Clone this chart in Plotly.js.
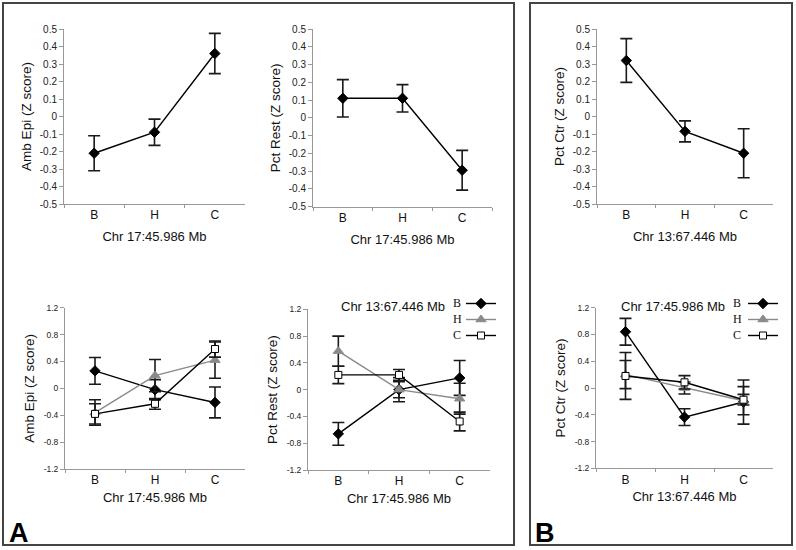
<!DOCTYPE html>
<html><head><meta charset="utf-8">
<script src="https://cdn.plot.ly/plotly-3.0.1.min.js"></script>
<style>html,body{margin:0;padding:0;background:#fff}#chart{width:796px;height:550px}</style>
</head><body><div id="chart"></div>
<script>
// categories (genotype on the x axis)
const genotypes = ['B', 'H', 'C'];
// legend series (genotype at the second locus)
const seriesNames = ['B', 'H', 'C'];

// top row values
const ambEpiTop = [-0.21, -0.09, 0.36];
const ambEpiTopErr = [0.10, 0.075, 0.115];
const pctRestTop = [0.11, 0.11, -0.295];
const pctRestTopErr = [0.105, 0.077, 0.112];
const pctCtrTop = [0.32, -0.085, -0.21];
const pctCtrTopErr = [0.125, 0.06, 0.14];

// bottom left: Amb Epi by Chr17 genotype, series = Chr13 genotype
const ambEpiB = [0.26, -0.02, -0.21];
const ambEpiBErr = [0.20, 0.15, 0.23];
const ambEpiH = [-0.36, 0.19, 0.42];
const ambEpiHErr = [0.19, 0.24, 0.27];
const ambEpiC = [-0.38, -0.23, 0.585];
const ambEpiCErr = [0.15, 0.08, 0.12];

// bottom middle: Pct Rest by Chr17 genotype, series = Chr13 genotype
const pctRestB = [-0.66, 0.0, 0.175];
const pctRestBErr = [0.17, 0.18, 0.26];
const pctRestH = [0.575, 0.0, -0.135];
const pctRestHErr = [0.225, 0.12, 0.23];
const pctRestC = [0.22, 0.22, -0.475];
const pctRestCErr = [0.13, 0.08, 0.14];

// bottom right: Pct Ctr by Chr13 genotype, series = Chr17 genotype
const pctCtrB = [0.84, -0.435, -0.21];
const pctCtrBErr = [0.20, 0.125, 0.33];
const pctCtrH = [0.20, 0.0, -0.19];
const pctCtrHErr = [0.21, 0.09, 0.21];
const pctCtrC = [0.18, 0.085, -0.175];
const pctCtrCErr = [0.35, 0.10, 0.08];

const topTicks = [0.5, 0.4, 0.3, 0.2, 0.1, 0, -0.1, -0.2, -0.3, -0.4, -0.5];
const topTickText = ['0.5', '0.4', '0.3', '0.2', '0.1', '0', '-0.1', '-0.2', '-0.3', '-0.4', '-0.5'];
const botTicks = [1.2, 0.8, 0.4, 0, -0.4, -0.8, -1.2];
const botTickText = ['1.2', '0.8', '0.4', '0', '-0.4', '-0.8', '-1.2'];

const FONT = 'Liberation Sans, Arial, sans-serif';
const SERIF = 'Liberation Serif, Times New Roman, serif';
const W = 796, H = 550;
const px = v => v / W;
const py = v => 1 - v / H;

const styles = [
  {symbol: 'diamond', size: 8, color: '#000', line: {color: '#000', width: 1}, lc: '#000'},
  {symbol: 'triangle-up', size: 9, color: '#8a8a8a', line: {color: '#8a8a8a', width: 1}, lc: '#8a8a8a'},
  {symbol: 'square', size: 7, color: '#fff', line: {color: '#000', width: 1}, lc: '#000'}
];

function tr(y, err, ax, st, legend) {
  return {
    type: 'scatter', mode: 'lines+markers', x: genotypes, y: y,
    xaxis: 'x' + ax, yaxis: 'y' + ax,
    name: '', showlegend: !!legend, legend: legend || 'legend',
    line: {color: st.lc, width: 1.4},
    marker: {symbol: st.symbol, size: st.size, color: st.color, line: st.line},
    error_y: {type: 'data', array: err, visible: true, color: '#1a1a1a', thickness: 1.6, width: 6},
    hoverinfo: 'skip'
  };
}

const data = [
  tr(ambEpiTop, ambEpiTopErr, '', styles[0]),
  tr(pctRestTop, pctRestTopErr, '2', styles[0]),
  tr(pctCtrTop, pctCtrTopErr, '3', styles[0]),
  tr(ambEpiB, ambEpiBErr, '4', styles[0]),
  tr(ambEpiH, ambEpiHErr, '4', styles[1]),
  tr(ambEpiC, ambEpiCErr, '4', styles[2]),
  tr(pctRestB, pctRestBErr, '5', styles[0], 'legend'),
  tr(pctRestH, pctRestHErr, '5', styles[1], 'legend2'),
  tr(pctRestC, pctRestCErr, '5', styles[2], 'legend3'),
  tr(pctCtrB, pctCtrBErr, '6', styles[0], 'legend4'),
  tr(pctCtrH, pctCtrHErr, '6', styles[1], 'legend5'),
  tr(pctCtrC, pctCtrCErr, '6', styles[2], 'legend6')
];

function xax(x0, x1, title, anchor, standoff) {
  return {
    domain: [px(x0), px(x1)], anchor: anchor, type: 'category',
    range: [-0.5, 2.5], tickson: 'boundaries', ticks: 'outside', ticklen: 3,
    tickcolor: '#999', showline: true, linecolor: '#999', linewidth: 1,
    showgrid: false, zeroline: false, fixedrange: true,
    tickfont: {family: FONT, size: 12, color: '#111'},
    title: {text: title, font: {family: FONT, size: 13, color: '#111'}, standoff: standoff}
  };
}
function yax(y0, y1, title, anchor, top) {
  return {
    domain: [py(y1), py(y0)], anchor: anchor,
    range: top ? [-0.5, 0.5] : [-1.2, 1.2],
    tickvals: top ? topTicks : botTicks, ticktext: top ? topTickText : botTickText,
    ticks: 'outside', ticklen: 4, tickcolor: '#999',
    showline: true, linecolor: '#999', linewidth: 1,
    showgrid: false, zeroline: false, fixedrange: true,
    tickfont: {family: FONT, size: top ? 10 : 8.5, color: '#222'},
    title: {text: title, font: {family: FONT, size: 13.5, color: '#111'}, standoff: 5}
  };
}

const chr17 = 'Chr 17:45.986 Mb';
const chr13 = 'Chr 13:67.446 Mb';

function leg(x, yCenter) {
  return {x: px(x), y: py(yCenter - 14), xanchor: 'left', yanchor: 'top', bgcolor: 'rgba(0,0,0,0)',
    font: {family: SERIF, size: 10}, itemwidth: 30};
}
const legendLetterY = [303, 319, 335];

const layout = {
  width: W, height: H, margin: {l: 0, r: 0, t: 0, b: 0},
  paper_bgcolor: '#fff', plot_bgcolor: 'rgba(0,0,0,0)',
  font: {family: FONT},
  showlegend: true,
  xaxis: xax(64, 245, chr17, 'y', 10),
  yaxis: yax(29, 204, 'Amb Epi (Z score)', 'x', true),
  xaxis2: xax(313, 492, chr17, 'y2', 10),
  yaxis2: yax(29, 206.7, 'Pct Rest (Z score)', 'x2', true),
  xaxis3: xax(597, 773, chr13, 'y3', 10),
  yaxis3: yax(29, 204, 'Pct Ctr (Z score)', 'x3', true),
  xaxis4: xax(65, 245, chr17, 'y4', 6),
  yaxis4: yax(307.7, 469, 'Amb Epi (Z score)', 'x4', false),
  xaxis5: xax(308, 490, chr17, 'y5', 6),
  yaxis5: yax(309.3, 470, 'Pct Rest (Z score)', 'x5', false),
  xaxis6: xax(596, 773, chr13, 'y6', 6),
  yaxis6: yax(307.7, 468.3, 'Pct Ctr (Z score)', 'x6', false),
  legend: leg(461, legendLetterY[0]),
  legend2: leg(461, legendLetterY[1]),
  legend3: leg(461, legendLetterY[2]),
  legend4: leg(743, legendLetterY[0]),
  legend5: leg(743, legendLetterY[1]),
  legend6: leg(743, legendLetterY[2]),
  shapes: [
    {type: 'rect', xref: 'paper', yref: 'paper', x0: px(3), x1: px(514), y0: py(545), y1: py(3),
      line: {color: '#444', width: 2}},
    {type: 'rect', xref: 'paper', yref: 'paper', x0: px(530), x1: px(792), y0: py(545), y1: py(3),
      line: {color: '#444', width: 2}}
  ],
  annotations: [
    {xref: 'paper', yref: 'paper', x: px(393), y: py(306.7), text: chr13, showarrow: false,
      font: {family: FONT, size: 13, color: '#111'}, xanchor: 'center', yanchor: 'middle'},
    {xref: 'paper', yref: 'paper', x: px(673), y: py(306.7), text: chr17, showarrow: false,
      font: {family: FONT, size: 13, color: '#111'}, xanchor: 'center', yanchor: 'middle'},
    {xref: 'paper', yref: 'paper', x: px(18.5), y: py(532.5), text: '<b>A</b>', showarrow: false,
      font: {family: FONT, size: 27, color: '#000'}, xanchor: 'center', yanchor: 'middle'},
    {xref: 'paper', yref: 'paper', x: px(544.5), y: py(532.5), text: '<b>B</b>', showarrow: false,
      font: {family: FONT, size: 27, color: '#000'}, xanchor: 'center', yanchor: 'middle'}
  ]
};
// legend letters, placed left of each legend sample
seriesNames.forEach((n, i) => {
  layout.annotations.push({xref: 'paper', yref: 'paper', x: px(457), y: py(legendLetterY[i]), text: n,
    showarrow: false, font: {family: SERIF, size: 12, color: '#111'}, xanchor: 'center', yanchor: 'middle'});
  layout.annotations.push({xref: 'paper', yref: 'paper', x: px(737), y: py(legendLetterY[i]), text: n,
    showarrow: false, font: {family: SERIF, size: 12, color: '#111'}, xanchor: 'center', yanchor: 'middle'});
});

Plotly.newPlot('chart', data, layout, {displayModeBar: false, staticPlot: true});
</script></body></html>
